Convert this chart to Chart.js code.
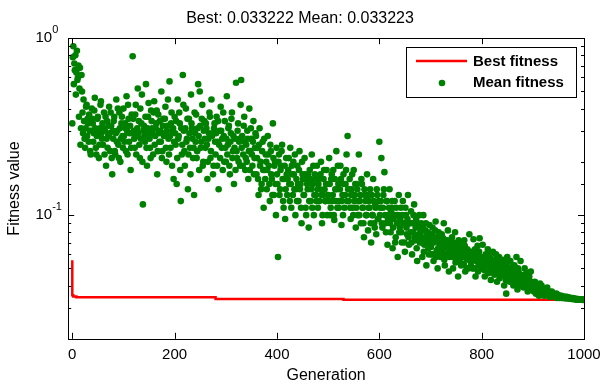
<!DOCTYPE html>
<html>
<head>
<meta charset="utf-8">
<script src="https://cdn.jsdelivr.net/npm/chart.js@4.4.0/dist/chart.umd.min.js"></script>
<style>
  html, body { margin: 0; padding: 0; background: #fff; }
  #wrap { width: 600px; height: 385px; }
</style>
</head>
<body>
<div id="wrap"><canvas id="gaPlot"></canvas></div>
<script>
// mean fitness at even generations (0, 2, 4, ... 1000)
const meanFitnessEven = [
  .33, .90, .72, .80, .64, .58, .70, .52, .25, .62,
  .38, .45, .27, .31, .42, .35, .26, .30, .22, .40,
  .33, .29, .46, .24, .28, .36, .21, .31, .44, .27,
  .25, .38, .30, .19, .34, .28, .41, .23, .32, .17,
  .27, .36, .22, .45, .30, .25, .38, .20, .33, .28,
  .40, .26, .31, .47, .22, .35, .29, .18, .37, .79,
  .30, .24, .42, .28, .52, .34, .21, .27, .48, .115,
  .32, .26, .55, .19, .36, .29, .24, .39, .31, .22,
  .44, .28, .33, .17, .37, .26, .30, .50, .23, .35,
  .29, .41, .20, .32, .27, .57, .24, .38, .30, .16,
  .36, .25, .15, .45, .28, .33, .12, .22, .62, .30,
  .19, .40, .27, .14, .35, .24, .48, .31, .21, .13,
  .29, .37, .23, .55, .18, .32, .26, .42, .20, .34,
  .24, .31, .16, .27, .38, .21, .45, .29, .19, .33,
  .22, .36, .26, .14, .30, .41, .24, .18, .28, .34,
  .20, .47, .25, .32, .17, .29, .38, .23, .15, .27,
  .56, .21, .33, .26, .19, .58, .28, .22, .36, .18,
  .25, .30, .16, .40, .23, .27, .19, .34, .21, .29,
  .17, .24, .13, .31, .20, .15, .26, .11, .18, .22,
  .14, .28, .19, .12, .23, .16, .33, .13, .20, .10,
  .17, .058, .22, .14, .19, .25, .12, .16, .095, .21,
  .13, .18, .15, .24, .11, .17, .20, .14, .10, .16,
  .19, .12, .23, .15, .09, .17, .13, .21, .11, .16,
  .14, .085, .18, .12, .22, .15, .10, .17, .13, .19,
  .11, .16, .14, .20, .09, .13, .18, .12, .15, .10,
  .13, .21, .10, .16, .12, .18, .094, .14, .23, .11,
  .15, .12, .19, .088, .13, .17, .11, .15, .22, .28,
  .12, .16, .095, .14, .11, .18, .13, .085, .15, .10,
  .22, .12, .09, .15, .11, .075, .13, .10, .17, .082,
  .12, .14, .07, .10, .16, .09, .115, .078, .13, .095,
  .26, .11, .21, .085, .13, .175, .09, .12, .068, .10,
  .14, .08, .11, .065, .095, .12, .075, .10, .058, .13,
  .085, .11, .07, .12, .09, .062, .10, .078, .13, .068,
  .09, .105, .06, .08, .115, .072, .095, .055, .085, .10,
  .075, .09, .058, .10, .068, .082, .052, .078, .065, .088,
  .07, .06, .085, .055, .075, .092, .063, .05, .08, .068,
  .058, .078, .065, .09, .052, .07, .06, .082, .048, .066,
  .06, .075, .05, .068, .08, .056, .063, .045, .07, .058,
  .052, .066, .06, .072, .048, .057, .064, .05, .078, .055,
  .062, .05, .073, .056, .045, .06, .067, .052, .074, .058,
  .05, .068, .055, .045, .06, .052, .064, .048, .058, .043,
  .055, .062, .047, .05, .06, .042, .053, .058, .046, .052,
  .049, .056, .04, .052, .036, .058, .045, .05, .055, .043,
  .047, .04, .052, .044, .058, .038, .048, .042, .055, .04,
  .045, .039, .05, .042, .047, .037, .044, .041, .048, .038,
  .04, .037, .042, .036, .039, .038, .035, .041, .037, .036,
  .038, .035, .037, .036, .039, .035, .037, .0345, .036, .035,
  .036, .035, .0345, .036, .0345, .035, .034, .0345, .035, .034,
  .0345, .034, .0342, .0345, .034, .0338, .0342, .0338, .0336, .034,
  .0336, .0338, .0335, .0334, .0336, .0333, .0334, .0333, .0333, .0333,
  .033223
];

// mean fitness at odd generations (1, 3, 5, ... 999)
const meanFitnessOdd = [
  .78, .55, .66, .48, .85, .60, .36, .68, .31, .50,
  .29, .34, .24, .41, .28, .33, .37, .23, .30, .35,
  .26, .39, .31, .22, .35, .30, .25, .42, .29, .33,
  .31, .22, .36, .27, .24, .32, .29, .38, .21, .30,
  .34, .23, .29, .26, .40, .21, .31, .27, .36, .24,
  .28, .33, .23, .30, .42, .26, .32, .24, .29, .35,
  .27, .37, .22, .31, .29, .25, .40, .33, .20, .30,
  .28, .36, .24, .31, .43, .27, .21, .34, .29, .38,
  .25, .31, .39, .23, .29, .34, .26, .21, .32, .28,
  .35, .24, .30, .45, .22, .28, .33, .19, .31, .26,
  .29, .34, .21, .27, .38, .18, .31, .25, .42, .23,
  .31, .26, .35, .22, .29, .17, .33, .27, .24, .38,
  .26, .21, .31, .28, .50, .24, .35, .19, .30, .27,
  .33, .25, .20, .29, .36, .23, .28, .17, .31, .26,
  .29, .19, .34, .25, .21, .30, .27, .38, .20, .24,
  .27, .22, .31, .19, .26, .35, .21, .28, .24, .18,
  .23, .30, .20, .27, .42, .24, .19, .32, .26, .21,
  .20, .27, .23, .18, .31, .22, .26, .17, .24, .28,
  .21, .16, .25, .19, .14, .23, .18, .27, .16, .20,
  .18, .22, .15, .25, .17, .13, .21, .19, .15, .24,
  .15, .20, .13, .18, .23, .16, .11, .19, .14, .17,
  .16, .21, .12, .15, .19, .13, .17, .22, .14, .12,
  .15, .18, .14, .11, .20, .16, .13, .17, .10, .15,
  .17, .12, .16, .14, .11, .19, .13, .16, .12, .14,
  .15, .12, .17, .13, .10, .16, .14, .12, .18, .13,
  .12, .15, .11, .17, .13, .10, .16, .12, .14, .19,
  .11, .14, .16, .12, .10, .15, .13, .18, .12, .14,
  .14, .11, .13, .17, .10, .12, .15, .11, .14, .12,
  .10, .13, .16, .11, .09, .14, .12, .10, .13, .11,
  .11, .09, .13, .10, .12, .085, .11, .14, .095, .12,
  .10, .12, .09, .11, .14, .10, .08, .12, .095, .11,
  .09, .105, .12, .085, .10, .07, .11, .09, .10, .08,
  .095, .08, .10, .09, .07, .11, .085, .095, .075, .09,
  .08, .07, .09, .10, .075, .085, .065, .09, .078, .07,
  .08, .07, .085, .062, .075, .09, .07, .08, .06, .074,
  .066, .078, .06, .07, .082, .058, .072, .065, .076, .06,
  .07, .062, .074, .056, .068, .06, .072, .064, .058, .07,
  .065, .058, .07, .062, .054, .066, .06, .072, .055, .063,
  .058, .062, .053, .067, .06, .05, .063, .056, .06, .052,
  .056, .06, .05, .064, .055, .058, .048, .062, .053, .057,
  .054, .058, .049, .055, .052, .06, .047, .053, .056, .05,
  .05, .054, .046, .056, .05, .048, .055, .044, .05, .053,
  .052, .046, .05, .043, .054, .047, .05, .042, .048, .051,
  .045, .05, .043, .047, .041, .05, .044, .046, .04, .043,
  .042, .046, .04, .044, .041, .039, .045, .04, .042, .039,
  .039, .041, .038, .04, .037, .039, .036, .038, .04, .037,
  .036, .038, .0355, .037, .036, .0355, .036, .035, .037, .0355,
  .035, .0355, .035, .034, .0355, .0345, .035, .0345, .034, .0345,
  .034, .0345, .0338, .034, .0342, .034, .0337, .0338, .0336, .0337,
  .0335, .0336, .0334, .0335, .0333, .0334, .0333, .0333, .0332, .0333
];

// best fitness changes (step line)
const bestGenerations = [0, 2, 8, 280, 530, 1000];
const bestFitness = [0.0555, 0.0352, 0.0347, 0.0343, 0.0336, 0.033222];

const xTicks = [0, 200, 400, 600, 800, 1000];
const titleText = 'Best: 0.033222 Mean: 0.033223';

Chart.defaults.font.family = '"Liberation Sans", Arial, sans-serif';
Chart.defaults.color = '#000';

const meanPoints = [];
meanFitnessEven.forEach((v, i) => meanPoints.push({ x: i * 2, y: v }));
meanFitnessOdd.forEach((v, i) => meanPoints.push({ x: i * 2 + 1, y: v }));
meanPoints.sort((a, b) => a.x - b.x);

const bestPoints = bestGenerations.map((g, i) => ({ x: g, y: bestFitness[i] }));

function isDecade(v) {
    const l = Math.log10(v);
    return Math.abs(l - Math.round(l)) < 1e-9;
}

// matlab style box, inside ticks, 10^n labels, legend
const axesBox = {
    id: 'axesBox',
    afterDatasetsDraw(chart) {
        const { ctx, chartArea: a, scales } = chart;
        ctx.save();
        ctx.strokeStyle = '#000';
        ctx.lineWidth = 1;
        ctx.beginPath();

        scales.x.ticks.forEach(t => {
            const px = Math.round(scales.x.getPixelForValue(t.value)) + 0.5;
            ctx.moveTo(px, a.bottom); ctx.lineTo(px, a.bottom - 6);
            ctx.moveTo(px, a.top); ctx.lineTo(px, a.top + 6);
        });

        scales.y.ticks.forEach(t => {
            const py = Math.round(scales.y.getPixelForValue(t.value)) + 0.5;
            const len = isDecade(t.value) ? 6 : 3;
            ctx.moveTo(a.left, py); ctx.lineTo(a.left + len, py);
            ctx.moveTo(a.right, py); ctx.lineTo(a.right - len, py);
        });
        ctx.stroke();

        ctx.strokeRect(Math.round(a.left) + 0.5, Math.round(a.top) + 0.5,
            Math.round(a.right - a.left), Math.round(a.bottom - a.top));

        ctx.fillStyle = '#000';
        ctx.textBaseline = 'middle';
        scales.y.ticks.forEach(t => {
            if (!isDecade(t.value)) return;
            const py = scales.y.getPixelForValue(t.value);
            const x = a.left - 16;
            ctx.font = '15px "Liberation Sans", Arial, sans-serif';
            ctx.textAlign = 'right';
            ctx.fillText('10', x, py);
            ctx.font = '11px "Liberation Sans", Arial, sans-serif';
            ctx.textAlign = 'left';
            ctx.fillText(String(Math.round(Math.log10(t.value))), x, py - 8.5);
        });
        ctx.restore();
    },
    afterDraw(chart) {
        const ctx = chart.ctx;
        ctx.save();
        ctx.fillStyle = '#fff';
        ctx.fillRect(406.5, 47.5, 170, 50);
        ctx.strokeStyle = '#000';
        ctx.lineWidth = 1;
        ctx.strokeRect(406.5, 47.5, 170, 50);

        ctx.strokeStyle = '#ff0000';
        ctx.lineWidth = 2.5;
        ctx.beginPath();
        ctx.moveTo(416, 61); ctx.lineTo(467, 61);
        ctx.stroke();

        ctx.fillStyle = '#008000';
        ctx.beginPath();
        ctx.arc(442, 83, 3.3, 0, Math.PI * 2);
        ctx.fill();

        ctx.fillStyle = '#000';
        ctx.font = 'bold 15px "Liberation Sans", Arial, sans-serif';
        ctx.textAlign = 'left';
        ctx.textBaseline = 'middle';
        ctx.fillText('Best fitness', 473, 62);
        ctx.fillText('Mean fitness', 473, 83);
        ctx.restore();
    }
};

new Chart(document.getElementById('gaPlot'), {
    type: 'scatter',

    data: {
        datasets: [{
            label: 'Best fitness',
            type: 'line',
            data: bestPoints,
            borderColor: '#ff0000',
            borderWidth: 2.5,
            stepped: 'after',
            pointRadius: 0,
            fill: false,
            order: 1
        }, {
            label: 'Mean fitness',
            data: meanPoints,
            backgroundColor: '#008000',
            pointRadius: 3.3,
            pointBorderWidth: 0,
            pointHoverRadius: 3.3,
            order: 0
        }]
    },

    options: {
        responsive: true,
        maintainAspectRatio: false,
        animation: false,
        layout: { padding: 0 },

        plugins: {
            legend: { display: false },
            tooltip: { enabled: false },
            title: {
                display: true,
                text: titleText,
                font: { size: 16, weight: 'normal' },
                color: '#000',
                padding: { top: 9, bottom: 10 }
            }
        },

        scales: {
            x: {
                type: 'linear',
                min: -8,
                max: 1000,
                afterBuildTicks: scale => {
                    scale.ticks = xTicks.map(v => ({ value: v }));
                },
                afterFit: scale => {
                    scale.paddingRight = 16;
                },
                grid: { display: false, drawTicks: false, tickLength: 0 },
                border: { display: false },
                ticks: {
                    font: { size: 15 },
                    color: '#000',
                    padding: 7,
                    maxRotation: 0,
                    autoSkip: false,
                    callback: v => String(v)
                },
                title: {
                    display: true,
                    text: 'Generation',
                    font: { size: 16 },
                    color: '#000',
                    padding: { top: -5, bottom: 0 }
                }
            },

            y: {
                type: 'logarithmic',
                min: 0.02,
                max: 1,
                grid: { display: false, drawTicks: false, tickLength: 0 },
                border: { display: false },
                ticks: { display: false },
                title: {
                    display: true,
                    text: 'Fitness value',
                    font: { size: 16 },
                    color: '#000',
                    padding: { top: 5, bottom: 44 }
                }
            }
        }
    },

    plugins: [axesBox]
});
</script>
</body>
</html>
